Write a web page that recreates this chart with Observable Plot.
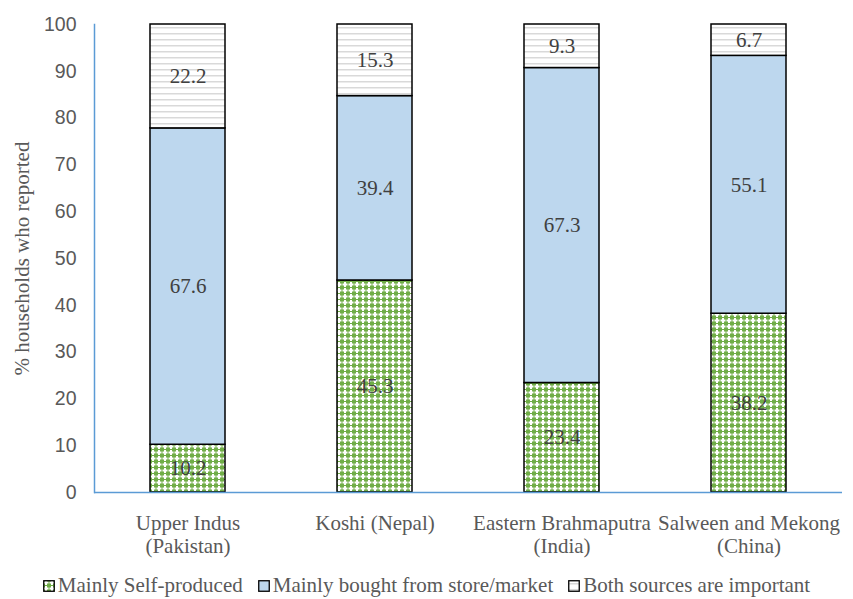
<!DOCTYPE html>
<html>
<head>
<meta charset="utf-8">
<script src="https://cdn.jsdelivr.net/npm/d3@7"></script>
<script src="https://cdn.jsdelivr.net/npm/@observablehq/plot@0.6"></script>
<style>
  body { margin: 0; background: #fff; }
  #legend, #legend * { font-family: "Liberation Serif", "Times New Roman", serif !important; font-size: 21px !important; color: #595959; line-height: 23px; }
  #legend { display: flex; justify-content: center; align-items: center; gap: 15px; margin-top: 12px; margin-left: 0px; }
  #legend span.item { display: inline-flex; align-items: center; gap: 3px; }
  #chart g[aria-label="y-axis tick label"] text { font-family: "Liberation Sans", Arial, sans-serif !important; font-size: 19.5px !important; }
  #chart g[aria-label="x-axis tick label"] text { font-family: "Liberation Serif", "Times New Roman", serif !important; font-size: 21px !important; }
  #chart g[aria-label="y-axis label"] text { font-family: "Liberation Serif", "Times New Roman", serif !important; font-size: 21px !important; }
  #chart g[aria-label="text"] text { font-family: "Liberation Serif", "Times New Roman", serif !important; font-size: 21px !important; }
</style>
</head>
<body>
<div id="chart"></div>
<div id="legend"></div>
<script>
const regions = ["Upper Indus\n(Pakistan)", "Koshi (Nepal)", "Eastern Brahmaputra\n(India)", "Salween and Mekong\n(China)"];
const seriesNames = ["Mainly Self-produced", "Mainly bought from store/market", "Both sources are important"];
const selfProduced = [10.2, 45.3, 23.4, 38.2];
const bought = [67.6, 39.4, 67.3, 55.1];
const both = [22.2, 15.3, 9.3, 6.7];
const yTicks = [0, 10, 20, 30, 40, 50, 60, 70, 80, 90, 100];
const patternFills = ["url(#pGreen)", "#bdd7ee", "url(#pLines)"];

const seriesValues = [selfProduced, bought, both];
const data = [];
seriesNames.forEach((s, si) => regions.forEach((r, ri) => data.push({region: r, series: s, value: seriesValues[si][ri]})));

const chart = Plot.plot({
  width: 853,
  height: 562,
  marginLeft: 94,
  marginRight: 11,
  marginTop: 24,
  marginBottom: 70,
  style: {background: "#fff"},
  x: {domain: regions, paddingInner: 0.6, paddingOuter: 0.3, label: null},
  y: {domain: [0, 100], label: null},
  color: {domain: seriesNames, range: patternFills},
  marks: [
    Plot.barY(data, Plot.stackY({x: "region", y: "value", z: "series", order: seriesNames, fill: "series", stroke: "#000", strokeWidth: 1.5})),
    Plot.text(data, Plot.stackY({x: "region", y: "value", z: "series", order: seriesNames, text: d => d.value.toFixed(1), fill: "#404040", fontSize: 21})),
    Plot.axisY({ticks: yTicks, tickSize: 0, tickPadding: 18, fill: "#595959", fontSize: 19.5,
      label: "% households who reported", labelAnchor: "center", labelOffset: 80, labelArrow: "none"}),
    Plot.axisX({tickSize: 0, tickPadding: 21, fill: "#595959", label: null, lineHeight: 1.1, fontSize: 21}),
    Plot.ruleY([0], {stroke: "#5b9bd5", strokeWidth: 1.5}),
    Plot.frame({anchor: "left", stroke: "#5b9bd5", strokeWidth: 1.5})
  ]
});

const ns = "http://www.w3.org/2000/svg";
const defsMarkup = `
<pattern id="pGreen" patternUnits="userSpaceOnUse" width="6" height="6">
  <rect width="6" height="6" fill="#70ad47"/>
  <rect x="2" y="0" width="2" height="5" fill="#ffffff"/>
  <rect x="0.5" y="1.5" width="5" height="2" fill="#ffffff"/>
</pattern>
<pattern id="pLines" patternUnits="userSpaceOnUse" width="6" height="6">
  <rect width="6" height="6" fill="#fff"/>
  <rect x="0" y="3" width="6" height="1.5" fill="#d9d9d9"/>
</pattern>`;
const main = chart.tagName.toLowerCase() === "svg" ? chart : chart.querySelector("svg");
const defs = document.createElementNS(ns, "defs");
defs.innerHTML = defsMarkup;
main.insertBefore(defs, main.firstChild);
document.getElementById("chart").appendChild(chart);

const legend = document.getElementById("legend");
seriesNames.forEach((s, i) => {
  const item = document.createElement("span");
  item.className = "item";
  item.innerHTML = `<svg width="12" height="12"><defs>${defsMarkup.replace(/id="p/g, 'id="L' + i + 'p')}</defs>
    <rect x="0.75" y="0.75" width="10.5" height="10.5" fill="${patternFills[i].replace('#p', '#L' + i + 'p')}" stroke="#000" stroke-width="1.3"/></svg><span>${s}</span>`;
  legend.appendChild(item);
});
</script>
</body>
</html>
